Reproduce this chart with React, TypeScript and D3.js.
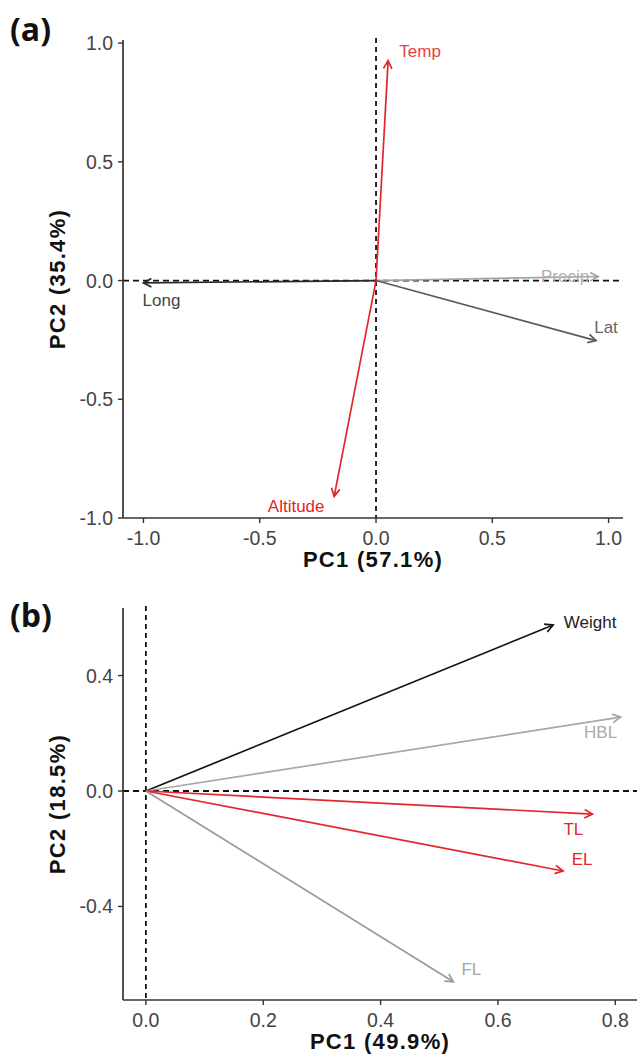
import React from "react";
import * as d3 from "d3";

// ---------- Data ----------
const varsA = ["Temp", "Precip", "Long", "Lat", "Altitude"];
const pc1A = [0.052, 0.955, -1.0, 0.946, -0.18];
const pc2A = [0.926, 0.017, -0.01, -0.253, -0.909];
const ticksXA = [-1.0, -0.5, 0.0, 0.5, 1.0];
const ticksYA = [-1.0, -0.5, 0.0, 0.5, 1.0];
const domainXA = [-1.088, 1.062];
const domainYA = [-1.0, 1.013];
const titleXA = "PC1 (57.1%)";
const titleYA = "PC2 (35.4%)";

const varsB = ["Weight", "HBL", "TL", "EL", "FL"];
const pc1B = [0.694, 0.809, 0.761, 0.711, 0.524];
const pc2B = [0.575, 0.256, -0.08, -0.277, -0.661];
const ticksXB = [0.0, 0.2, 0.4, 0.6, 0.8];
const ticksYB = [-0.4, 0.0, 0.4];
const domainXB = [-0.039, 0.837];
const domainYB = [-0.724, 0.634];
const titleXB = "PC1 (49.9%)";
const titleYB = "PC2 (18.5%)";

// ---------- Styles ----------
const RED = "#e2262c";
const varStyle: Record<string, { color: string; lcolor?: string; dx: number; dy: number }> = {
  Temp: { color: RED, lcolor: "#e6433f", dx: 32, dy: -9 },
  Precip: { color: "#a3a3a3", lcolor: "#b0b0b0", dx: -33, dy: 0 },
  Long: { color: "#2a2a2a", lcolor: "#444", dx: 18, dy: 18 },
  Lat: { color: "#5a5a5a", lcolor: "#666", dx: 10, dy: -13 },
  Altitude: { color: RED, dx: -38, dy: 10 },
  Weight: { color: "#151515", lcolor: "#222", dx: 37, dy: -3 },
  HBL: { color: "#a8a8a8", lcolor: "#aaa", dx: -20, dy: 15 },
  TL: { color: RED, dx: -19, dy: 15 },
  EL: { color: RED, dx: 19, dy: -11 },
  FL: { color: "#9a9a9a", lcolor: "#a5a5a5", dx: 18, dy: -12 },
};

const FONT = "'Liberation Sans', Arial, Helvetica, sans-serif";

type PanelProps = {
  vars: string[];
  pc1: number[];
  pc2: number[];
  ticksX: number[];
  ticksY: number[];
  domainX: number[];
  domainY: number[];
  titleX: string;
  titleY: string;
  xRange: [number, number];
  yRange: [number, number]; // [bottom, top]
  tag: string;
  tagY: number;
  fmt: (v: number) => string;
};

function Panel(p: PanelProps) {
  const x = d3.scaleLinear().domain(p.domainX).range(p.xRange);
  const y = d3.scaleLinear().domain(p.domainY).range(p.yRange);
  const [x0, x1] = p.xRange;
  const [yb, yt] = p.yRange;
  const headLen = 9;
  const headAng = (28 * Math.PI) / 180;

  return (
    <g>
      <text x={10} y={p.tagY} fontFamily="'Open Sans', 'Noto Sans', sans-serif" fontWeight={700} fontSize={32} fill="#111">
        {p.tag}
      </text>
      {/* reference dashed lines */}
      <line x1={x0} x2={x1} y1={y(0)} y2={y(0)} stroke="#111" strokeWidth={1.8} strokeDasharray="6,4" />
      <line x1={x(0)} x2={x(0)} y1={yt - 2} y2={yb} stroke="#111" strokeWidth={1.8} strokeDasharray="5,4" />
      {/* arrows */}
      {p.vars.map((v, i) => {
        const st = varStyle[v];
        const ex = x(p.pc1[i]);
        const ey = y(p.pc2[i]);
        const sx = x(0);
        const sy = y(0);
        const th = Math.atan2(ey - sy, ex - sx);
        const h1 = [ex - headLen * Math.cos(th - headAng), ey - headLen * Math.sin(th - headAng)];
        const h2 = [ex - headLen * Math.cos(th + headAng), ey - headLen * Math.sin(th + headAng)];
        return (
          <g key={v}>
            <line x1={sx} y1={sy} x2={ex} y2={ey} stroke={st.color} strokeWidth={1.7} />
            <path
              d={`M${h1[0]},${h1[1]}L${ex},${ey}L${h2[0]},${h2[1]}`}
              fill="none"
              stroke={st.color}
              strokeWidth={1.7}
            />
            <text
              x={ex + st.dx}
              y={ey + st.dy}
              textAnchor="middle"
              dominantBaseline="central"
              fontFamily={FONT}
              fontSize={17}
              fill={st.lcolor || st.color}
            >
              {v}
            </text>
          </g>
        );
      })}
      {/* axes */}
      <line x1={x0} x2={x0} y1={yt} y2={yb} stroke="#333" strokeWidth={1.7} />
      <line x1={x0} x2={x1} y1={yb} y2={yb} stroke="#333" strokeWidth={1.7} />
      {p.ticksY.map((t) => (
        <g key={"y" + t}>
          <line x1={x0 - 5} x2={x0} y1={y(t)} y2={y(t)} stroke="#333" strokeWidth={1.4} />
          <text
            x={x0 - 10}
            y={y(t)}
            textAnchor="end"
            dominantBaseline="central"
            fontFamily={FONT}
            fontSize={19.5}
            fill="#444"
          >
            {p.fmt(t)}
          </text>
        </g>
      ))}
      {p.ticksX.map((t) => (
        <g key={"x" + t}>
          <line x1={x(t)} x2={x(t)} y1={yb} y2={yb + 5} stroke="#333" strokeWidth={1.4} />
          <text x={x(t)} y={yb + 27} textAnchor="middle" fontFamily={FONT} fontSize={19.5} fill="#444">
            {p.fmt(t)}
          </text>
        </g>
      ))}
      <text
        x={(x0 + x1) / 2}
        y={yb + 49}
        textAnchor="middle"
        fontFamily={FONT}
        fontWeight={700}
        fontSize={22}
        letterSpacing={1.3}
        fill="#111"
      >
        {p.titleX}
      </text>
      <text
        transform={`translate(65,${(yb + yt) / 2}) rotate(-90)`}
        textAnchor="middle"
        fontFamily={FONT}
        fontWeight={700}
        fontSize={22}
        letterSpacing={1.3}
        fill="#111"
      >
        {p.titleY}
      </text>
    </g>
  );
}

export default function App() {
  const fmt = (v: number) => (Math.abs(v) < 1e-9 ? "0.0" : v.toFixed(1));
  return (
    <div style={{ position: "absolute", left: 0, top: 0 }}>
      <svg width={638} height={1058} style={{ display: "block", background: "#fff" }}>
        <Panel
          vars={varsA}
          pc1={pc1A}
          pc2={pc2A}
          ticksX={ticksXA}
          ticksY={ticksYA}
          domainX={domainXA}
          domainY={domainYA}
          titleX={titleXA}
          titleY={titleYA}
          xRange={[123, 623]}
          yRange={[518, 40]}
          tag="(a)"
          tagY={41}
          fmt={fmt}
        />
        <Panel
          vars={varsB}
          pc1={pc1B}
          pc2={pc2B}
          ticksX={ticksXB}
          ticksY={ticksYB}
          domainX={domainXB}
          domainY={domainYB}
          titleX={titleXB}
          titleY={titleYB}
          xRange={[123, 637]}
          yRange={[1000, 608]}
          tag="(b)"
          tagY={627}
          fmt={fmt}
        />
      </svg>
    </div>
  );
}
